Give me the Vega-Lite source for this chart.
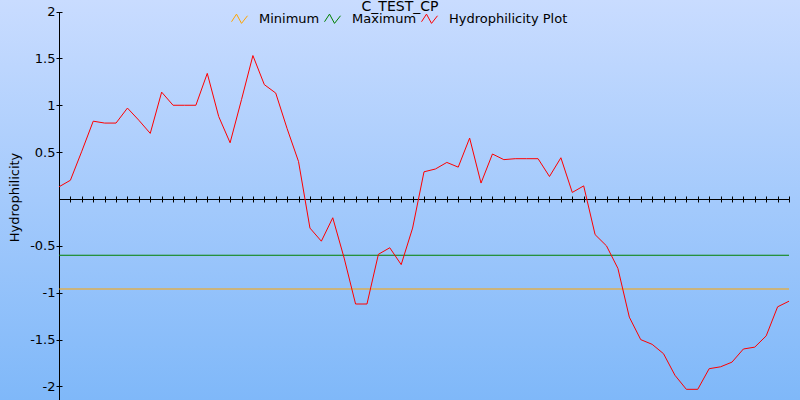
{
  "$schema": "https://vega.github.io/schema/vega-lite/v6.json",
  "width": 800,
  "height": 400,
  "autosize": {"type": "none"},
  "padding": 0,
  "background": "#a4c9fc",
  "config": {
    "font": "DejaVu Sans",
    "view": {"stroke": null, "fill": {"gradient": "linear", "x1": 0, "y1": 0, "x2": 0, "y2": 1, "stops": [{"offset": 0, "color": "#c9dcff"}, {"offset": 1, "color": "#7fb8f9"}]}}
  },
  "title": {"text": "C_TEST_CP", "anchor": "middle", "frame": "group", "fontSize": 14, "font": "DejaVu Sans", "fontWeight": "normal", "color": "#000000", "offset": -25, "baseline": "alphabetic"},
  "data": {"values": [
    {"s": "Minimum", "i": 0, "v": -0.96}, {"s": "Minimum", "i": 64, "v": -0.96},
    {"s": "Maximum", "i": 0, "v": -0.6}, {"s": "Maximum", "i": 64, "v": -0.6},
    {"s": "Hydrophilicity Plot", "i": 0, "v": 0.13},
    {"s": "Hydrophilicity Plot", "i": 1, "v": 0.2},
    {"s": "Hydrophilicity Plot", "i": 2, "v": 0.51},
    {"s": "Hydrophilicity Plot", "i": 3, "v": 0.83},
    {"s": "Hydrophilicity Plot", "i": 4, "v": 0.81},
    {"s": "Hydrophilicity Plot", "i": 5, "v": 0.81},
    {"s": "Hydrophilicity Plot", "i": 6, "v": 0.97},
    {"s": "Hydrophilicity Plot", "i": 7, "v": 0.84},
    {"s": "Hydrophilicity Plot", "i": 8, "v": 0.7},
    {"s": "Hydrophilicity Plot", "i": 9, "v": 1.14},
    {"s": "Hydrophilicity Plot", "i": 10, "v": 1.0},
    {"s": "Hydrophilicity Plot", "i": 11, "v": 1.0},
    {"s": "Hydrophilicity Plot", "i": 12, "v": 1.0},
    {"s": "Hydrophilicity Plot", "i": 13, "v": 1.34},
    {"s": "Hydrophilicity Plot", "i": 14, "v": 0.88},
    {"s": "Hydrophilicity Plot", "i": 15, "v": 0.6},
    {"s": "Hydrophilicity Plot", "i": 16, "v": 1.06},
    {"s": "Hydrophilicity Plot", "i": 17, "v": 1.53},
    {"s": "Hydrophilicity Plot", "i": 18, "v": 1.22},
    {"s": "Hydrophilicity Plot", "i": 19, "v": 1.13},
    {"s": "Hydrophilicity Plot", "i": 20, "v": 0.75},
    {"s": "Hydrophilicity Plot", "i": 21, "v": 0.4},
    {"s": "Hydrophilicity Plot", "i": 22, "v": -0.31},
    {"s": "Hydrophilicity Plot", "i": 23, "v": -0.45},
    {"s": "Hydrophilicity Plot", "i": 24, "v": -0.2},
    {"s": "Hydrophilicity Plot", "i": 25, "v": -0.63},
    {"s": "Hydrophilicity Plot", "i": 26, "v": -1.12},
    {"s": "Hydrophilicity Plot", "i": 27, "v": -1.12},
    {"s": "Hydrophilicity Plot", "i": 28, "v": -0.59},
    {"s": "Hydrophilicity Plot", "i": 29, "v": -0.52},
    {"s": "Hydrophilicity Plot", "i": 30, "v": -0.7},
    {"s": "Hydrophilicity Plot", "i": 31, "v": -0.31},
    {"s": "Hydrophilicity Plot", "i": 32, "v": 0.29},
    {"s": "Hydrophilicity Plot", "i": 33, "v": 0.32},
    {"s": "Hydrophilicity Plot", "i": 34, "v": 0.39},
    {"s": "Hydrophilicity Plot", "i": 35, "v": 0.34},
    {"s": "Hydrophilicity Plot", "i": 36, "v": 0.65},
    {"s": "Hydrophilicity Plot", "i": 37, "v": 0.17},
    {"s": "Hydrophilicity Plot", "i": 38, "v": 0.48},
    {"s": "Hydrophilicity Plot", "i": 39, "v": 0.42},
    {"s": "Hydrophilicity Plot", "i": 40, "v": 0.43},
    {"s": "Hydrophilicity Plot", "i": 41, "v": 0.43},
    {"s": "Hydrophilicity Plot", "i": 42, "v": 0.43},
    {"s": "Hydrophilicity Plot", "i": 43, "v": 0.24},
    {"s": "Hydrophilicity Plot", "i": 44, "v": 0.44},
    {"s": "Hydrophilicity Plot", "i": 45, "v": 0.07},
    {"s": "Hydrophilicity Plot", "i": 46, "v": 0.14},
    {"s": "Hydrophilicity Plot", "i": 47, "v": -0.38},
    {"s": "Hydrophilicity Plot", "i": 48, "v": -0.5},
    {"s": "Hydrophilicity Plot", "i": 49, "v": -0.74},
    {"s": "Hydrophilicity Plot", "i": 50, "v": -1.26},
    {"s": "Hydrophilicity Plot", "i": 51, "v": -1.5},
    {"s": "Hydrophilicity Plot", "i": 52, "v": -1.55},
    {"s": "Hydrophilicity Plot", "i": 53, "v": -1.65},
    {"s": "Hydrophilicity Plot", "i": 54, "v": -1.88},
    {"s": "Hydrophilicity Plot", "i": 55, "v": -2.03},
    {"s": "Hydrophilicity Plot", "i": 56, "v": -2.03},
    {"s": "Hydrophilicity Plot", "i": 57, "v": -1.81},
    {"s": "Hydrophilicity Plot", "i": 58, "v": -1.79},
    {"s": "Hydrophilicity Plot", "i": 59, "v": -1.74},
    {"s": "Hydrophilicity Plot", "i": 60, "v": -1.6},
    {"s": "Hydrophilicity Plot", "i": 61, "v": -1.58},
    {"s": "Hydrophilicity Plot", "i": 62, "v": -1.46},
    {"s": "Hydrophilicity Plot", "i": 63, "v": -1.15},
    {"s": "Hydrophilicity Plot", "i": 64, "v": -1.09}
  ]},
  "resolve": {"axis": {"x": "independent", "y": "independent"}},
  "layer": [
    {
      "mark": {"type": "line", "strokeWidth": 1, "interpolate": "linear"},
      "encoding": {
        "x": {"field": "i", "type": "quantitative",
          "scale": {"domain": [0, 64], "range": [59, 789], "nice": false, "zero": false},
          "axis": {"orient": "bottom", "offset": -201, "values": [1,2,3,4,5,6,7,8,9,10,11,12,13,14,15,16,17,18,19,20,21,22,23,24,25,26,27,28,29,30,31,32,33,34,35,36,37,38,39,40,41,42,43,44,45,46,47,48,49,50,51,52,53,54,55,56,57,58,59,60,61,62,63,64],
            "labels": false, "title": null, "grid": false, "tickSize": 3, "tickColor": "#000000", "tickWidth": 1, "domainColor": "#000000", "domainWidth": 1}},
        "y": {"field": "v", "type": "quantitative",
          "scale": {"domain": [-2.144, 2], "range": [400, 11.5], "nice": false, "zero": false},
          "axis": {"orient": "left", "offset": -59, "values": [-2, -1.5, -1, -0.5, 0.5, 1, 1.5, 2],
            "labelExpr": "datum.value + ''", "labelFontSize": 13, "labelColor": "#000000", "labelFont": "DejaVu Sans", "labelPadding": 1,
            "tickSize": 3, "tickColor": "#000000", "domainColor": "#000000", "grid": false,
            "title": "Hydrophilicity", "titleFontSize": 13, "titleFont": "DejaVu Sans", "titleFontWeight": "normal", "titleColor": "#000000",
            "titleAngle": -90, "titleX": -40.5, "titleY": 197, "titleAlign": "center", "titleBaseline": "alphabetic"}},
        "color": {"field": "s", "type": "nominal",
          "scale": {"domain": ["Minimum", "Maximum", "Hydrophilicity Plot"], "range": ["#ffa500", "#008000", "#ff0000"]},
          "legend": {"title": null, "orient": "none", "legendX": 231, "legendY": 10, "direction": "horizontal",
            "symbolType": "M-1,0.375L-0.375,-0.58L0.25,0.58L1,-0.375", "symbolSize": 256, "symbolStrokeWidth": 1,
            "labelFontSize": 13, "labelFont": "DejaVu Sans", "labelColor": "#000000", "labelOffset": 11, "columnPadding": 2,
            "encode": {"symbols": {"update": {"fill": {"value": "transparent"}}}}}}
      }
    },
    {
      "mark": {"type": "line", "strokeOpacity": 0},
      "encoding": {
        "x": {"field": "i", "type": "quantitative",
          "axis": {"orient": "top", "offset": -199, "values": [1,2,3,4,5,6,7,8,9,10,11,12,13,14,15,16,17,18,19,20,21,22,23,24,25,26,27,28,29,30,31,32,33,34,35,36,37,38,39,40,41,42,43,44,45,46,47,48,49,50,51,52,53,54,55,56,57,58,59,60,61,62,63,64],
            "labels": false, "title": null, "grid": false, "domain": false, "tickSize": 3, "tickColor": "#000000", "tickWidth": 1}},
        "y": {"field": "v", "type": "quantitative",
          "axis": {"orient": "right", "offset": -741, "values": [-2, -1.5, -1, -0.5, 0.5, 1, 1.5, 2],
            "labels": false, "title": null, "grid": false, "domain": false, "tickSize": 3, "tickColor": "#000000"}},
        "detail": {"field": "s"}
      }
    }
  ]
}
